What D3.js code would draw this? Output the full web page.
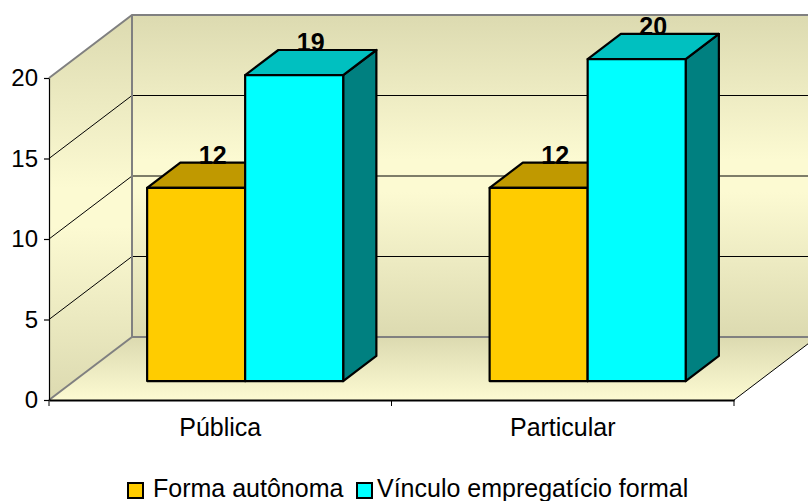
<!DOCTYPE html>
<html>
<head>
<meta charset="utf-8">
<script src="https://cdn.jsdelivr.net/npm/d3@7"></script>
<style>
  body { margin: 0; background: #fff; }
  svg { display: block; font-family: "Liberation Sans", Arial, sans-serif; }
</style>
</head>
<body>
<svg id="chart"></svg>
<script>
/*** DATA ***/
const categories = ["Pública", "Particular"];
const seriesNames = ["Forma autônoma", "Vínculo empregatício formal"];
const formaAutonoma = [12, 12];
const vinculoFormal = [19, 20];
const yTicks = [0, 5, 10, 15, 20];

/*** CONSTANTS ***/
const WIDTH = 808;
const HEIGHT = 501;
const DX = 83, DY = 63;          // full depth offset of the 3d box
const Z_FRONT = 0.3, Z_BACK = 0.7; // bar depth inside the box

const plot = { left: 49, right: 734, bottom: 400, top: 78 };

const colors = {
  front: ["#ffcc00", "#00ffff"],
  top: ["#c09900", "#00c0c0"],
  side: ["#a08000", "#008080"]
};

const svg = d3.select("#chart").attr("width", WIDTH).attr("height", HEIGHT);

const x0 = d3.scaleBand()
  .domain(categories)
  .range([plot.left, plot.right]);

const x1 = d3.scaleBand()
  .domain(seriesNames)
  .range([0, x0.bandwidth()])
  .paddingOuter(0.747);

const y = d3.scaleLinear()
  .domain([0, 20])
  .range([plot.bottom, plot.top]);

function P(x, v, z) {
  return [x + z * DX, y(v) - z * DY];
}

// gradients
const defs = svg.append("defs");
function grad(id, y1, y2, stops) {
  const g = defs.append("linearGradient")
    .attr("id", id)
    .attr("gradientUnits", "userSpaceOnUse")
    .attr("x1", 0).attr("x2", 0).attr("y1", y1).attr("y2", y2);
  stops.forEach(s => g.append("stop").attr("offset", s[0]).attr("stop-color", s[1]));
}
const DARK = "#dcdab0", LIGHT = "#fcfad2";
grad("wallGrad", y(20) - DY, y(0) - DY, [[0, DARK], [0.45, LIGHT], [0.55, LIGHT], [1, DARK]]);
grad("leftGrad", y(20) - DY, y(0), [[0, DARK], [0.45, LIGHT], [0.55, LIGHT], [1, DARK]]);
grad("floorGrad", y(0) - DY, y(0), [[0, DARK], [1, LIGHT]]);

const line = d3.line();

// back wall
svg.append("path")
  .attr("d", line([P(plot.left, 20, 1), P(plot.right, 20, 1), [WIDTH + 20, y(20) - DY], [WIDTH + 20, y(0) - DY], P(plot.left, 0, 1)]) + "Z")
  .attr("fill", "url(#wallGrad)");

// left wall
svg.append("path")
  .attr("d", line([P(plot.left, 0, 0), P(plot.left, 20, 0), P(plot.left, 20, 1), P(plot.left, 0, 1)]) + "Z")
  .attr("fill", "url(#leftGrad)");

// floor
svg.append("path")
  .attr("d", line([P(plot.left, 0, 0), P(plot.right, 0, 0), P(plot.right, 0, 1), P(plot.left, 0, 1)]) + "Z")
  .attr("fill", "url(#floorGrad)");

// gridlines
const grid = svg.append("g").attr("stroke", "#000").attr("stroke-width", 1).attr("fill", "none");
yTicks.filter(t => t > 0 && t < 20).forEach(t => {
  grid.append("path")
    .attr("d", line([P(plot.left, t, 0), P(plot.left, t, 1), [WIDTH + 20, y(t) - DY]]));
});

// wall edges
const edges = svg.append("g").attr("stroke", "#808080").attr("stroke-width", 2).attr("fill", "none");
edges.append("path").attr("d", line([P(plot.left, 20, 0), P(plot.left, 20, 1), [WIDTH + 20, y(20) - DY]]));
edges.append("path").attr("d", line([P(plot.left, 20, 1), P(plot.left, 0, 1), [WIDTH + 20, y(0) - DY]]));
edges.append("path").attr("d", line([P(plot.left, 0, 0), P(plot.left, 0, 1)]));

// floor right edge
svg.append("path")
  .attr("d", line([P(plot.right, 0, 0), P(plot.right, 0, 1)]))
  .attr("stroke", "#000").attr("stroke-width", 1).attr("fill", "none");

// y axis
svg.append("g")
  .attr("transform", `translate(${plot.left},0)`)
  .call(d3.axisLeft(y).tickValues(yTicks).tickSize(5).tickPadding(6).tickSizeOuter(0))
  .call(g => g.selectAll("text").attr("font-size", 24).attr("fill", "#000").attr("font-family", null))
  .call(g => g.selectAll("line, path").attr("stroke", "#000").attr("stroke-width", 1.2));

// x axis
svg.append("g")
  .attr("transform", `translate(0,${plot.bottom})`)
  .call(d3.axisBottom(x0).tickSize(0).tickPadding(18).tickSizeOuter(0))
  .call(g => g.selectAll("text").attr("font-size", 25).attr("fill", "#000").attr("font-family", null))
  .call(g => g.select(".domain").attr("stroke", "#000").attr("stroke-width", 2));

const bounds = categories.map(c => x0(c)).concat([plot.right]);
svg.append("g")
  .selectAll("line")
  .data(bounds)
  .join("line")
  .attr("x1", d => d).attr("x2", d => d)
  .attr("y1", plot.bottom).attr("y2", plot.bottom + 6)
  .attr("stroke", "#000").attr("stroke-width", 1);

// bars
const barData = [];
categories.forEach((c, i) => {
  [formaAutonoma[i], vinculoFormal[i]].forEach((v, s) => {
    barData.push({ cat: c, s: s, name: seriesNames[s], value: v });
  });
});

const bars = svg.append("g")
  .attr("stroke", "#000")
  .attr("stroke-width", 2.2)
  .attr("stroke-linejoin", "round")
  .selectAll("g")
  .data(barData)
  .join("g");

bars.each(function (d) {
  const g = d3.select(this);
  const xl = x0(d.cat) + x1(d.name);
  const xr = xl + x1.bandwidth();
  g.append("path")
    .attr("d", line([P(xr, 0, Z_FRONT), P(xr, d.value, Z_FRONT), P(xr, d.value, Z_BACK), P(xr, 0, Z_BACK)]) + "Z")
    .attr("fill", colors.side[d.s]);
  g.append("path")
    .attr("d", line([P(xl, d.value, Z_FRONT), P(xr, d.value, Z_FRONT), P(xr, d.value, Z_BACK), P(xl, d.value, Z_BACK)]) + "Z")
    .attr("fill", colors.top[d.s]);
  g.append("path")
    .attr("d", line([P(xl, 0, Z_FRONT), P(xr, 0, Z_FRONT), P(xr, d.value, Z_FRONT), P(xl, d.value, Z_FRONT)]) + "Z")
    .attr("fill", colors.front[d.s]);
});

// value labels
svg.append("g")
  .selectAll("text")
  .data(barData)
  .join("text")
  .attr("x", d => P(x0(d.cat) + x1(d.name) + x1.bandwidth() / 2, d.value, 0.5)[0])
  .attr("y", d => P(0, d.value, Z_BACK)[1] + 1)
  .attr("text-anchor", "middle")
  .attr("font-size", 25)
  .attr("font-weight", "bold")
  .text(d => d.value);

// legend
const legendItems = [
  { name: seriesNames[0], color: colors.front[0], x: 128, tx: 153 },
  { name: seriesNames[1], color: colors.front[1], x: 357, tx: 377 }
];
const lg = svg.append("g").selectAll("g").data(legendItems).join("g");
lg.append("rect")
  .attr("x", d => d.x).attr("y", 483)
  .attr("width", 15).attr("height", 15)
  .attr("fill", d => d.color)
  .attr("stroke", "#000").attr("stroke-width", 2);
lg.append("text")
  .attr("x", d => d.tx).attr("y", 497)
  .attr("font-size", 25)
  .text(d => d.name);
</script>
</body>
</html>
